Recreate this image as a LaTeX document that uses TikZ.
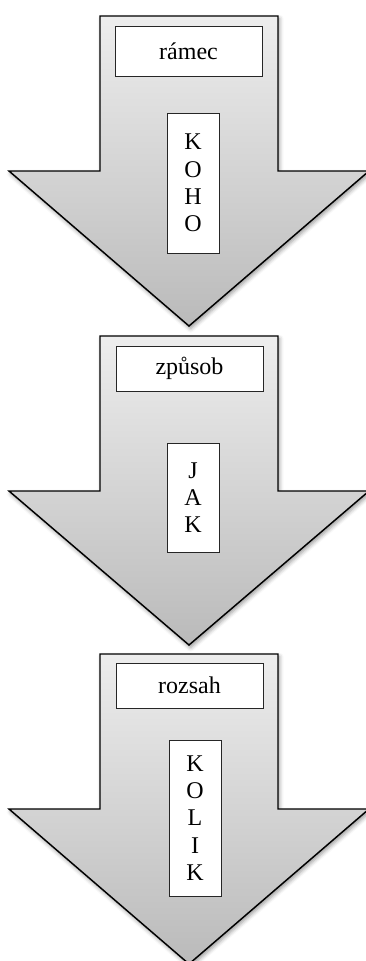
\documentclass[tikz,border=0pt]{standalone}
\usepackage{fontspec}
\setmainfont{Liberation Serif}
\usetikzlibrary{shadows.blur}
\begin{document}
\begin{tikzpicture}[x=0.75pt,y=-0.75pt,
  bigarrow/.style={draw=black, line width=1.1pt, line join=miter,
    top color=black!7, bottom color=black!27,
    blur shadow={shadow xshift=1.2pt, shadow yshift=-2pt, shadow blur radius=3pt, shadow opacity=40}},
  wordbox/.style={draw=black!85, line width=0.6pt, fill=white, inner sep=0pt,
    minimum width=110.25pt, font=\fontsize{18}{20}\selectfont},
  letterbox/.style={draw=black!85, line width=0.6pt, fill=white, inner sep=0pt,
    minimum width=39pt, align=center, font=\fontsize{18}{20.5}\selectfont},
]
\useasboundingbox (0,0) rectangle (365,961);
% arrows
\path[bigarrow] (100,16) -- (278,16) -- (278,171) -- (369,171) -- (189,326) -- (9,171) -- (100,171) -- cycle;
\path[bigarrow] (100,336) -- (278,336) -- (278,491) -- (369,491) -- (189,645) -- (9,491) -- (100,491) -- cycle;
\path[bigarrow] (100,654) -- (278,654) -- (278,809) -- (369,809) -- (189,964) -- (9,809) -- (100,809) -- cycle;
% boxes
\node[wordbox, minimum height=37.5pt] (ramec) at (188.5,51) {rámec};
\node[letterbox, minimum height=105pt] (koho) at (193,183) {K\\O\\H\\O};
\node[wordbox, minimum height=33.75pt] (zpusob) at (189.5,368.5) {způsob};
\node[letterbox, minimum height=81.75pt] (jak) at (193,497.5) {J\\A\\K};
\node[wordbox, minimum height=33.75pt] (rozsah) at (189.5,685.5) {rozsah};
\node[letterbox, minimum height=117pt] (kolik) at (195,818) {K\\O\\L\\I\\K};
\end{tikzpicture}
\end{document}
